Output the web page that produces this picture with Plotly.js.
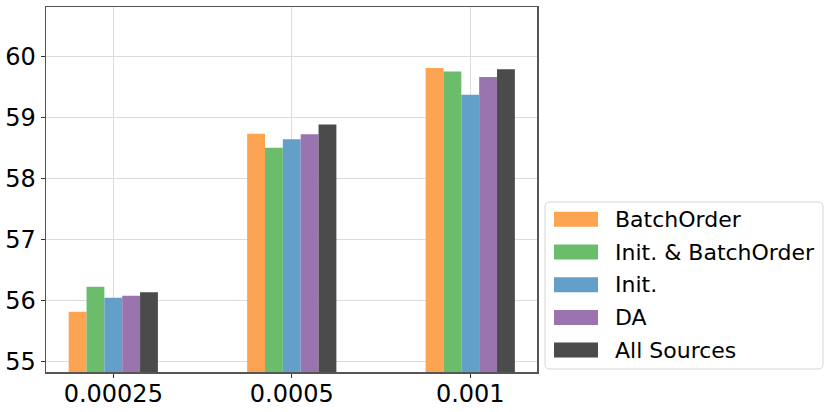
<!DOCTYPE html>
<html>
<head>
<meta charset="utf-8">
<script src="https://cdn.plot.ly/plotly-3.0.1.min.js"></script>
<style>html,body{margin:0;padding:0;background:#fff;}#chart{width:831px;height:412px;}</style>
</head>
<body>
<div id="chart"></div>
<script>
// ---- data ----
const categories = ["0.00025", "0.0005", "0.001"];
const seriesNames = ["BatchOrder", "Init. & BatchOrder", "Init.", "DA", "All Sources"];
const batchOrder = [55.82, 58.74, 59.82];
const initBatchOrder = [56.23, 58.51, 59.76];
const initOnly = [56.05, 58.65, 59.38];
const daValues = [56.08, 58.73, 59.67];
const allSources = [56.14, 58.89, 59.80];
const yTicks = [55, 56, 57, 58, 59, 60];

const seriesValues = [batchOrder, initBatchOrder, initOnly, daValues, allSources];
const colors = ["#fda453", "#6bbc6b", "#62a0ca", "#9a74ae", "#4b4b4b"];

const W = 831, H = 412;
const L = 46, R = 537, T = 7, B = 372;
const font = "DejaVu Sans, sans-serif";

const traces = seriesNames.map((name, i) => ({
  type: "bar",
  name: name,
  x: categories,
  y: seriesValues[i],
  marker: {color: colors[i], line: {width: 0}},
  showlegend: false,
  hoverinfo: "x+y+name"
}));

// custom legend (pixel -> paper)
const px = v => (v - L) / (R - L);
const py = v => (B - v) / (B - T);
const shapes = [];
const annotations = [];
const bx0 = 545, bx1 = 823, by0 = 202, by1 = 369, rad = 5;
const rx = rad / (R - L), ry = rad / (B - T);
const X0 = px(bx0), X1 = px(bx1), Y0 = py(by1), Y1 = py(by0);
shapes.push({
  type: "path", xref: "paper", yref: "paper",
  path: `M${X0 + rx},${Y0} L${X1 - rx},${Y0} Q${X1},${Y0} ${X1},${Y0 + ry} L${X1},${Y1 - ry} Q${X1},${Y1} ${X1 - rx},${Y1} L${X0 + rx},${Y1} Q${X0},${Y1} ${X0},${Y1 - ry} L${X0},${Y0 + ry} Q${X0},${Y0} ${X0 + rx},${Y0} Z`,
  line: {color: "#d6d6d6", width: 1}, fillcolor: "rgba(255,255,255,0.85)", layer: "above"
});
seriesNames.forEach((name, i) => {
  const cy = 219.3 + i * 32.7;
  shapes.push({
    type: "rect", xref: "paper", yref: "paper",
    x0: px(554), x1: px(598), y0: py(cy + 7.5), y1: py(cy - 7.5),
    fillcolor: colors[i], line: {width: 0}, layer: "above"
  });
  annotations.push({
    xref: "paper", yref: "paper", x: px(613), y: py(cy),
    xanchor: "left", yanchor: "middle", showarrow: false,
    text: name, font: {family: font, size: 22, color: "#000"}
  });
});

const layout = {
  width: W, height: H,
  margin: {l: L, r: W - R, t: T, b: H - B, pad: 0},
  paper_bgcolor: "#fff", plot_bgcolor: "#fff",
  barmode: "group", bargap: 0.5, bargroupgap: 0,
  font: {family: font, size: 24, color: "#000"},
  xaxis: {
    type: "category", range: [-0.377, 2.374],
    showgrid: true, gridcolor: "#dcdcdc", gridwidth: 1,
    showline: true, linecolor: "#555", linewidth: 1.5, mirror: true,
    ticks: "outside", ticklen: 4, tickcolor: "#333", ticklabelstandoff: -4,
    tickfont: {family: font, size: 24, color: "#000"}, zeroline: false
  },
  yaxis: {
    range: [54.83, 60.82], tickvals: yTicks, ticktext: yTicks.map(String),
    showgrid: true, gridcolor: "#dcdcdc", gridwidth: 1,
    showline: true, linecolor: "#555", linewidth: 1.5, mirror: true,
    ticks: "outside", ticklen: 4, tickcolor: "#333",
    tickfont: {family: font, size: 24, color: "#000"}, zeroline: false
  },
  shapes: shapes,
  annotations: annotations
};

Plotly.newPlot("chart", traces, layout, {displayModeBar: false, staticPlot: true});
</script>
</body>
</html>
